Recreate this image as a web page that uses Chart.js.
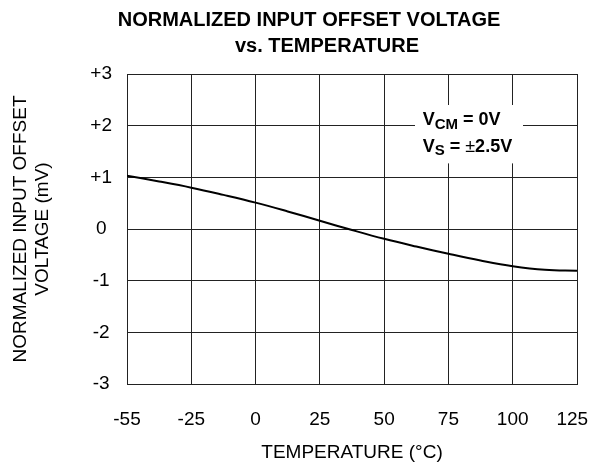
<!DOCTYPE html>
<html>
<head>
<meta charset="utf-8">
<script src="https://cdn.jsdelivr.net/npm/chart.js@4"></script>
<style>
  html, body { margin: 0; padding: 0; background: #fff; }
  #wrap { width: 591px; height: 468px; }
</style>
</head>
<body>
<div id="wrap"><canvas id="offsetchart" width="591" height="468"></canvas></div>
<script>
// temperature grid (the axis is drawn with equal spacing between ticks)
var xTickTemps = [-55, -25, 0, 25, 50, 75, 100, 125];
var xTickLabels = ['-55', '-25', '0', '25', '50', '75', '100', '125'];
var yTickLabels = ['-3', '-2', '-1', '0', '+1', '+2', '+3'];

// curve
var temps = [-55, -40, -25, -12.5, 0, 12.5, 25, 37.5, 50, 62.5, 75, 87.5, 100, 112.5, 125];
var offsetMv = [1.03, 0.92, 0.80, 0.66, 0.51, 0.34, 0.16, -0.02, -0.19, -0.34, -0.48, -0.61, -0.72, -0.79, -0.81];

// position of a temperature along the evenly spaced tick grid
function tempToPos(t) {
    for (var i = 0; i < xTickTemps.length - 1; i++) {
        var a = xTickTemps[i], b = xTickTemps[i + 1];
        if (t <= b) return i + (t - a) / (b - a);
    }
    return xTickTemps.length - 1;
}

var points = temps.map(function (t, i) { return { x: tempToPos(t), y: offsetMv[i] }; });

var FONT = "'Liberation Sans', Arial, sans-serif";

var notes = {
    id: 'notes',
    beforeDatasetsDraw: function (chart) {
        var c = chart.ctx, x = chart.scales.x, y = chart.scales.y;
        // white box behind the conditions text
        var l = x.getPixelForValue(4.48), r = x.getPixelForValue(6.16);
        var t = y.getPixelForValue(2.4), b = y.getPixelForValue(1.27);
        c.save();
        c.fillStyle = '#fff';
        c.fillRect(l, t, r - l, b - t);
        c.fillStyle = '#000';
        c.textBaseline = 'alphabetic';
        var tx = x.getPixelForValue(4.6);
        var rows = [[2.01, 'CM', ' = 0V', false], [1.5, 'S', ' = ', true]];
        rows.forEach(function (row) {
            var by = y.getPixelForValue(row[0]);
            var px = tx;
            c.font = 'bold 18px ' + FONT;
            c.fillText('V', px, by);
            px += c.measureText('V').width;
            c.font = 'bold 15px ' + FONT;
            c.fillText(row[1], px, by + 3.5);
            px += c.measureText(row[1]).width;
            c.font = 'bold 18px ' + FONT;
            c.fillText(row[2], px, by);
            px += c.measureText(row[2]).width;
            if (row[3]) {
                c.font = '18px ' + FONT;
                c.fillText('\u00B1', px, by);
                px += c.measureText('\u00B1').width;
                c.font = 'bold 18px ' + FONT;
                c.fillText('2.5V', px, by);
            }
        });
        c.restore();
    },
    afterDraw: function (chart) {
        var c = chart.ctx;
        c.save();
        c.fillStyle = '#000';
        c.font = 'bold 20px ' + FONT;
        c.textAlign = 'center';
        c.textBaseline = 'alphabetic';
        c.fillText('NORMALIZED INPUT OFFSET VOLTAGE', 309, 26);
        c.fillText('vs. TEMPERATURE', 327, 52);
        c.restore();
    }
};

var ctx = document.getElementById('offsetchart').getContext('2d');

var offsetchart = new Chart(ctx, {
    type: 'line',
    data: {
        datasets: [{
            data: points,
            borderColor: '#000',
            borderWidth: 2,
            pointRadius: 0,
            fill: false,
            tension: 0.4
        }]
    },
    options: {
        responsive: false,
        animation: false,
        layout: { padding: { top: 74, right: 14, bottom: 0, left: 0 } },
        plugins: {
            legend: { display: false },
            tooltip: { enabled: false }
        },
        scales: {
            x: {
                type: 'linear',
                min: 0,
                max: xTickLabels.length - 1,
                afterBuildTicks: function (s) {
                    s.ticks = xTickLabels.map(function (lab, i) { return { value: i }; });
                },
                afterFit: function (s) { s.height = 84; s.paddingRight = 0; s.paddingLeft = 0; },
                grid: { color: '#222', lineWidth: 1, drawTicks: false },
                border: { color: '#222', width: 1 },
                ticks: {
                    color: '#000',
                    font: { family: FONT, size: 19 },
                    padding: 24,
                    maxRotation: 0,
                    callback: function (v) {
                        // last label sits a little inside the right edge, as in the original
                        return v === xTickLabels.length - 1 ? xTickLabels[v] + '\u2002' : xTickLabels[v];
                    }
                },
                title: {
                    display: true,
                    text: 'TEMPERATURE (\u00B0C)',
                    color: '#000',
                    font: { family: FONT, size: 19 },
                    padding: { top: 0, bottom: 4 }
                }
            },
            y: {
                min: -3,
                max: 3,
                afterBuildTicks: function (s) {
                    s.ticks = yTickLabels.map(function (lab, i) { return { value: i - 3 }; });
                },
                afterFit: function (s) { s.width = 127; s.paddingTop = 0; s.paddingBottom = 0; },
                grid: { color: '#222', lineWidth: 1, drawTicks: false },
                border: { color: '#222', width: 1 },
                ticks: {
                    color: '#000',
                    font: { family: FONT, size: 19 },
                    padding: 15,
                    crossAlign: 'center',
                    callback: function (v) { return yTickLabels[v + 3]; }
                },
                title: {
                    display: true,
                    text: ['NORMALIZED INPUT OFFSET', 'VOLTAGE (mV)'],
                    color: '#000',
                    font: { family: FONT, size: 19, lineHeight: 1.2 },
                    padding: { top: 9, bottom: 0 }
                }
            }
        }
    },
    plugins: [notes]
});
</script>
</body>
</html>
